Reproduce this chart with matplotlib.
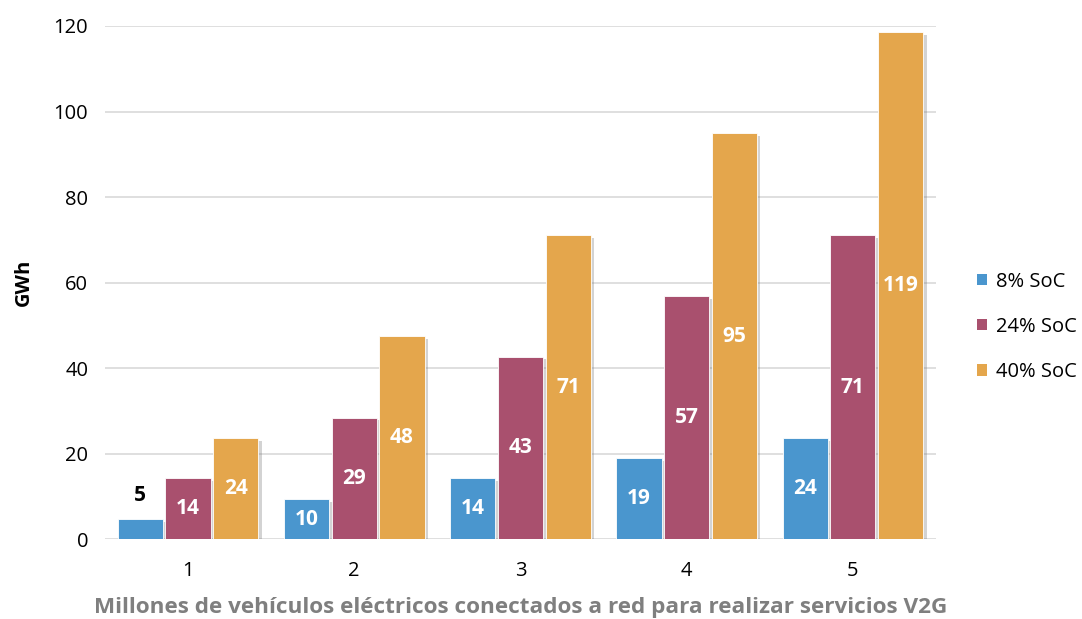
import numpy as np
import matplotlib.pyplot as plt
import matplotlib.patheffects as pe
from matplotlib.patches import Patch

plt.rcParams['font.family'] = ['Open Sans', 'DejaVu Sans']

# data
groups = ["1", "2", "3", "4", "5"]
series = ["8% SoC", "24% SoC", "40% SoC"]
soc8 = [4.7, 9.4, 14.2, 18.9, 23.7]
soc24 = [14.2, 28.4, 42.7, 56.9, 71.1]
soc40 = [23.7, 47.4, 71.1, 94.9, 118.6]
lab8 = ["5", "10", "14", "19", "24"]
lab24 = ["14", "29", "43", "57", "71"]
lab40 = ["24", "48", "71", "95", "119"]
colors = ["#4A96CE", "#A9506E", "#E4A64C"]

fig = plt.figure(figsize=(10.82, 6.19), dpi=100)
ax = fig.add_axes([0.097, 0.129, 0.768, 0.829])

x = np.arange(len(groups))
w = 0.272
step = 0.287
shadow = [pe.SimplePatchShadow(offset=(2.5, -2), shadow_rgbFace="#707070", alpha=0.3), pe.Normal()]

for i, (vals, labs) in enumerate(zip([soc8, soc24, soc40], [lab8, lab24, lab40])):
    bars = ax.bar(x + (i - 1) * step, vals, width=w, color=colors[i], edgecolor="white",
                  linewidth=0.6, zorder=3)
    for b in bars:
        b.set_path_effects(shadow)
    for b, v, t in zip(bars, vals, labs):
        cx = b.get_x() + b.get_width() / 2
        if v < 6:
            ax.text(cx, v + 5.5, t, ha="center", va="center", fontsize=15,
                    fontweight="bold", color="black", zorder=4)
        else:
            ax.text(cx, v / 2, t, ha="center", va="center", fontsize=15,
                    fontweight="bold", color="white", zorder=4)

ax.set_xlim(-0.5, 4.5)
ax.set_ylim(0, 120)
ax.set_yticks(range(0, 121, 20))
ax.set_xticks(x)
ax.set_xticklabels(groups)
ax.tick_params(axis="x", length=0, labelsize=14.5, pad=16)
ax.tick_params(axis="y", length=0, labelsize=14.5, pad=12)
ax.grid(axis="y", color="#D9D9D9", linewidth=1.2, zorder=0)
for s in ax.spines.values():
    s.set_visible(False)

ax.set_ylabel("GWh", fontsize=14.5, fontweight="bold", labelpad=14)
ax.set_xlabel("Millones de vehículos eléctricos conectados a red para realizar servicios V2G",
              fontsize=16.2, fontweight="bold", color="#7F7F7F", labelpad=11)

handles = [Patch(facecolor=c, label=s) for c, s in zip(colors, series)]
ax.legend(handles=handles, loc="center left", bbox_to_anchor=(0.903, 0.472),
          bbox_transform=fig.transFigure, frameon=False, fontsize=14.5,
          handlelength=0.5, handleheight=0.5, labelspacing=1.25, handletextpad=0.45,
          borderpad=0, borderaxespad=0)

fig.savefig("out.png", dpi=100)
